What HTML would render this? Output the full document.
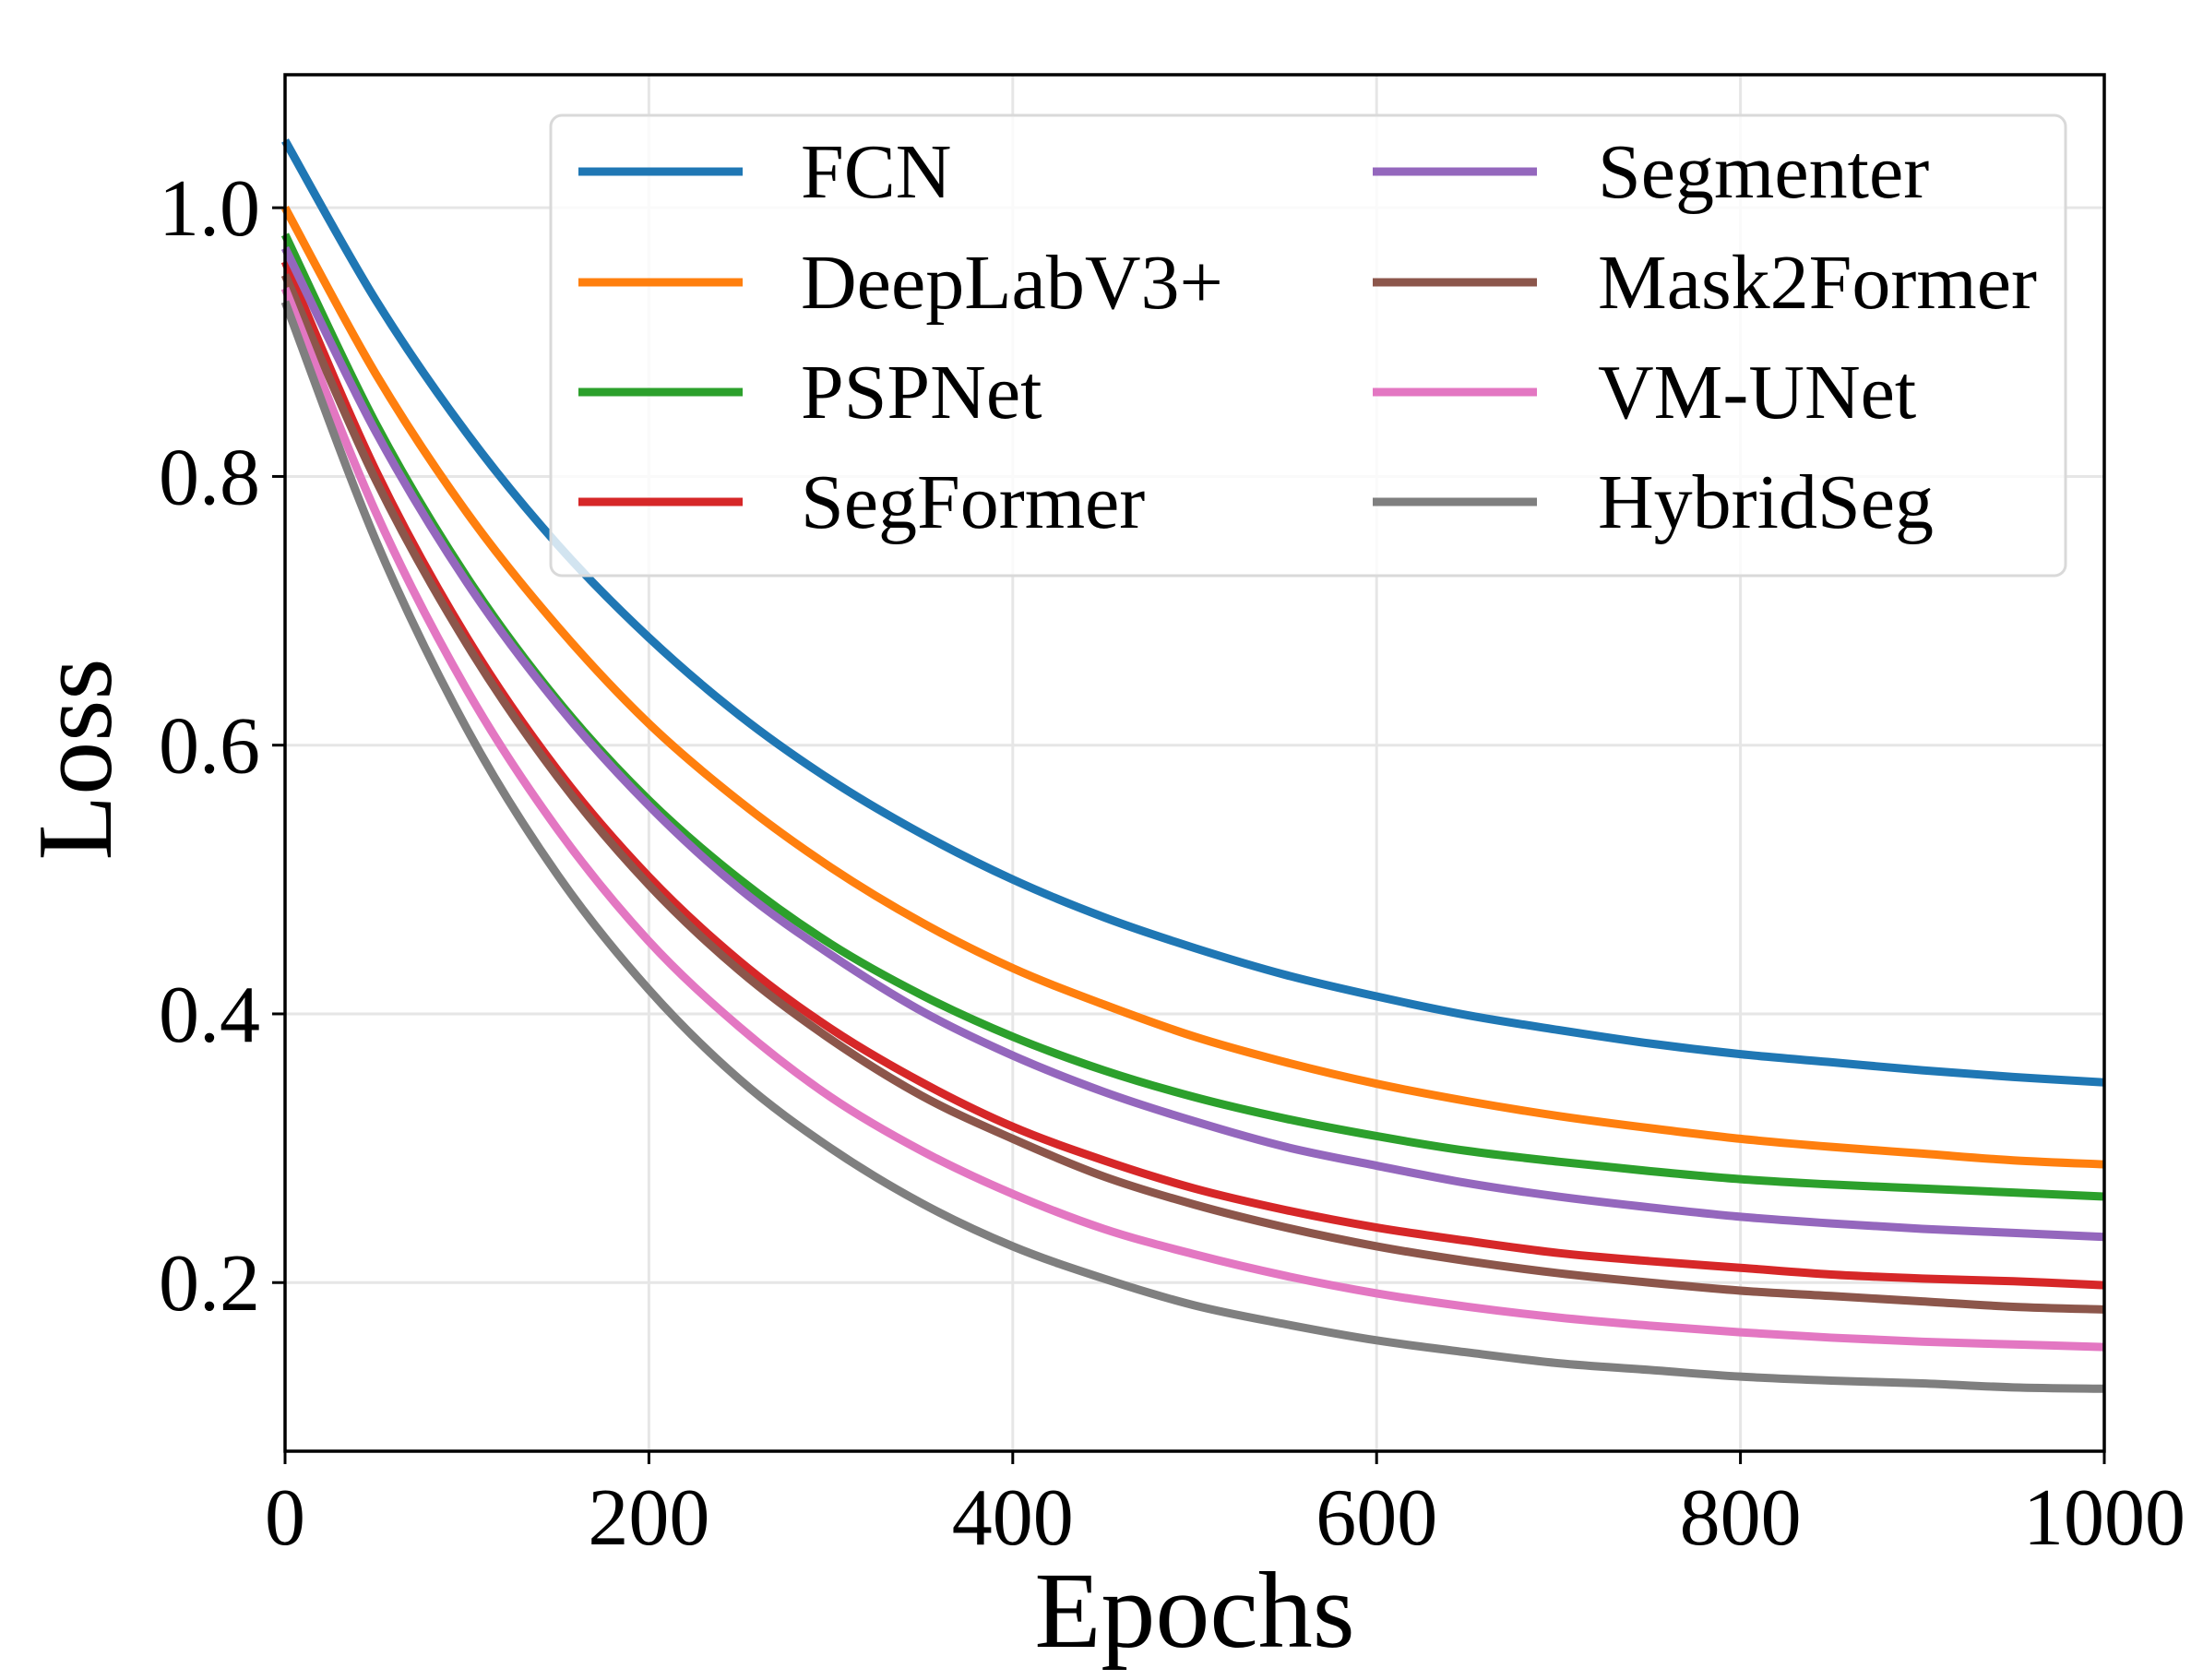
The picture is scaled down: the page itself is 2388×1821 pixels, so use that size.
<!DOCTYPE html>
<html><head><meta charset="utf-8"><style>
html,body{margin:0;padding:0;background:#fff}
svg{display:block}
text{font-family:"Liberation Serif",serif;fill:#000}
</style></head><body>
<svg id="chart" width="2388" height="1821" viewBox="0 0 2388 1821" xmlns="http://www.w3.org/2000/svg">
<g id="grid"></g>
<g id="series"></g>
<g id="axes"></g>
<g id="legend"></g>
<text x="1295" y="1785" font-size="118" text-anchor="middle">Epochs</text>
<text x="0" y="0" font-size="116" text-anchor="middle" transform="translate(120,823) rotate(-90)">Loss</text>
</svg>
<script>
const epochs = [0,50,100,150,200,250,300,350,400,450,500,550,600,650,700,750,800,850,900,950,1000];
const seriesNames = ["FCN","DeepLabV3+","PSPNet","SegFormer","Segmenter","Mask2Former","VM-UNet","HybridSeg"];
const seriesColors = ["#1f77b4","#ff7f0e","#2ca02c","#d62728","#9467bd","#8c564b","#e377c2","#7f7f7f"];
const fcn = [1.05,0.931,0.832,0.749,0.680,0.622,0.574,0.534,0.500,0.472,0.449,0.429,0.413,0.399,0.388,0.378,0.370,0.364,0.358,0.353,0.349];
const deeplab = [1.0,0.876,0.773,0.688,0.616,0.558,0.509,0.468,0.434,0.407,0.383,0.364,0.348,0.335,0.324,0.315,0.307,0.301,0.296,0.291,0.288];
const pspnet = [0.98,0.839,0.725,0.633,0.559,0.500,0.452,0.414,0.383,0.358,0.338,0.322,0.309,0.298,0.290,0.283,0.277,0.273,0.270,0.267,0.264];
const segformer = [0.96,0.804,0.680,0.581,0.502,0.439,0.389,0.349,0.316,0.291,0.270,0.254,0.241,0.231,0.222,0.216,0.211,0.206,0.203,0.201,0.198];
const segmenter = [0.97,0.833,0.721,0.630,0.555,0.493,0.444,0.402,0.369,0.342,0.320,0.301,0.287,0.274,0.264,0.256,0.249,0.244,0.240,0.237,0.234];
const mask2former = [0.95,0.797,0.675,0.576,0.496,0.432,0.381,0.339,0.307,0.279,0.258,0.241,0.227,0.216,0.207,0.200,0.194,0.190,0.186,0.182,0.180];
const vmunet = [0.94,0.773,0.641,0.537,0.454,0.390,0.338,0.298,0.266,0.240,0.221,0.205,0.192,0.182,0.174,0.168,0.163,0.159,0.156,0.154,0.152];
const hybridseg = [0.93,0.752,0.612,0.503,0.418,0.351,0.300,0.259,0.227,0.203,0.183,0.169,0.157,0.148,0.140,0.135,0.130,0.127,0.125,0.122,0.121];
const xTicks = [0,200,400,600,800,1000];
const yTicks = [0.2,0.4,0.6,0.8,1.0];
const yTickLabels = ["0.2","0.4","0.6","0.8","1.0"];

const NS="http://www.w3.org/2000/svg";
const L=309,R=2281,T=81,B=1573;
const xMin=0,xMax=1000,yMin=0.0745,yMax=1.099;
function sx(v){return L+(v-xMin)/(xMax-xMin)*(R-L);}
function sy(v){return B-(v-yMin)/(yMax-yMin)*(B-T);}
function mk(tag,attrs,parent){const e=document.createElementNS(NS,tag);for(const k in attrs)e.setAttribute(k,attrs[k]);parent.appendChild(e);return e;}

const grid=document.getElementById('grid');
xTicks.forEach(t=>{const g=mk('line',{x1:sx(t),x2:sx(t),y1:T,y2:B,stroke:'#e6e6e6','stroke-width':3},grid);

});
yTicks.forEach(t=>{const g=mk('line',{x1:L,x2:R,y1:sy(t),y2:sy(t),stroke:'#e6e6e6','stroke-width':3},grid);

});

const allData=[fcn,deeplab,pspnet,segformer,segmenter,mask2former,vmunet,hybridseg];
const sg=document.getElementById('series');
function pathFor(arr){
  const pts=arr.map((v,i)=>[sx(epochs[i]),sy(v)]);
  let d='M'+pts[0][0]+','+pts[0][1];
  for(let i=0;i<pts.length-1;i++){
    const p0=pts[Math.max(0,i-1)],p1=pts[i],p2=pts[i+1],p3=pts[Math.min(pts.length-1,i+2)];
    const c1=[p1[0]+(p2[0]-p0[0])/6,p1[1]+(p2[1]-p0[1])/6];
    const c2=[p2[0]-(p3[0]-p1[0])/6,p2[1]-(p3[1]-p1[1])/6];
    d+=' C'+c1[0]+','+c1[1]+' '+c2[0]+','+c2[1]+' '+p2[0]+','+p2[1];
  }
  return d;
}
allData.forEach((arr,i)=>{
  const p=mk('path',{d:pathFor(arr),fill:'none',stroke:seriesColors[i],'stroke-width':9,'stroke-linejoin':'round','stroke-linecap':'butt'},sg);
  
  
});

const ax=document.getElementById('axes');
const fr=mk('rect',{x:L,y:T,width:R-L,height:B-T,fill:'none',stroke:'#000','stroke-width':3.5},ax);


xTicks.forEach(t=>{
  const tk=mk('line',{x1:sx(t),x2:sx(t),y1:B,y2:B+14,stroke:'#000','stroke-width':3},ax);
  
  
  const tx=mk('text',{x:sx(t),y:1674,'font-size':88,'text-anchor':'middle'},ax);
  tx.textContent=String(t);
  
  
});
yTicks.forEach((t,i)=>{
  const tk=mk('line',{x1:L-14,x2:L,y1:sy(t),y2:sy(t),stroke:'#000','stroke-width':3},ax);
  
  
  const tx=mk('text',{x:282,y:sy(t)+30,'font-size':88,'text-anchor':'end'},ax);
  tx.textContent=yTickLabels[i];
  
  
});

const lg=document.getElementById('legend');
const box=mk('rect',{x:597,y:125,width:1642,height:499,rx:12,fill:'#fff','fill-opacity':0.8,stroke:'#d9d9d9','stroke-width':3},lg);


const rowsY=[186,306,425,544];
const legOrder=[0,1,2,3,4,5,6,7];
const legLabels=["FCN","DeepLabV3+","PSPNet","SegFormer","Segmenter","Mask2Former","VM-UNet","HybridSeg"];
const legColors=["#1f77b4","#ff7f0e","#2ca02c","#d62728","#9467bd","#8c564b","#e377c2","#7f7f7f"];
legOrder.forEach(i=>{
  const col=i<4?0:1,row=i%4;
  const lx=col===0?627:1488,tx0=col===0?868:1732;
  const g=mk('g',{},lg);
  
  
  mk('line',{x1:lx,x2:lx+178,y1:rowsY[row],y2:rowsY[row],stroke:legColors[i],'stroke-width':9},g);
  const t=mk('text',{x:tx0,y:rowsY[row]+28,'font-size':84},g);
  t.textContent=legLabels[i];
});
</script>
</body></html>
